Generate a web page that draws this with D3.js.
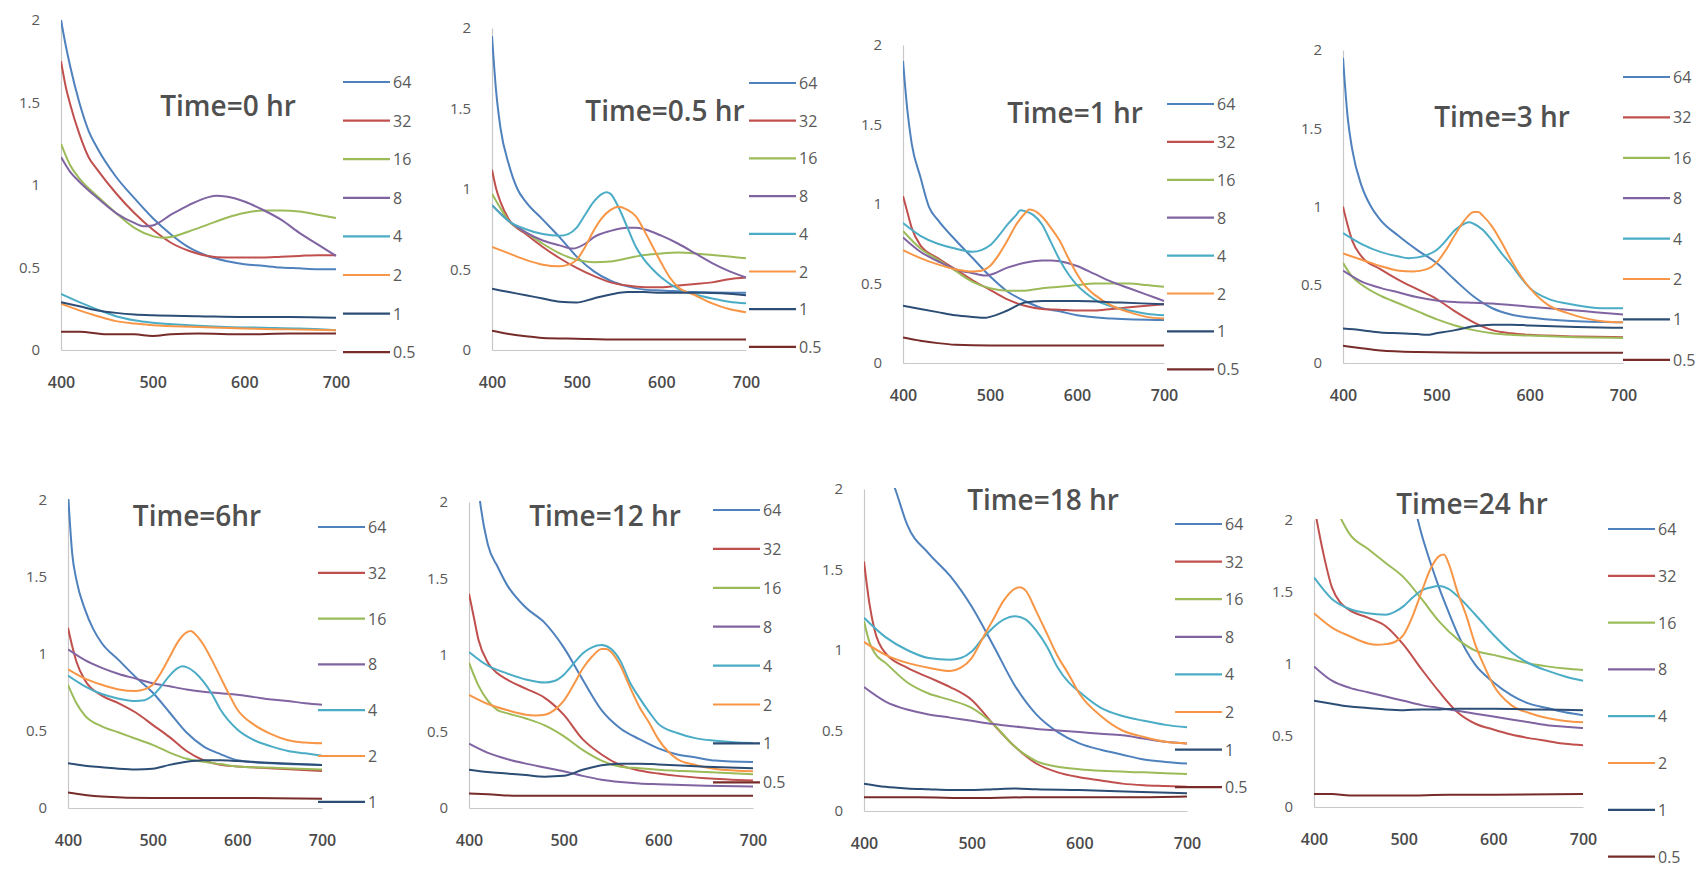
<!DOCTYPE html>
<html><head><meta charset="utf-8">
<script src="https://cdn.jsdelivr.net/npm/d3@7"></script>
<style>body{margin:0;background:#fff;} text{font-family:"Open Sans",Lato,sans-serif;}</style>
</head><body><svg id="c" width="1705" height="870"></svg>
<script>
// ---------------- DATA ----------------
const seriesNames = ["64","32","16","8","4","2","1","0.5"];
const panelTitles = ["Time=0 hr","Time=0.5 hr","Time=1 hr","Time=3 hr","Time=6hr","Time=12 hr","Time=18 hr","Time=24 hr"];
const xTicks = [400,500,600,700];
const yTicks = [0,0.5,1,1.5,2];
const legendCounts = [8,8,8,8,7,8,8,8];

// each panel: series in seriesNames order, each as [wavelength, absorbance] readings
const time0 = [
 [[400,2.0],[405,1.85],[410,1.72],[420,1.5],[430,1.33],[440,1.22],[460,1.05],[480,0.92],[500,0.80],[520,0.70],[540,0.62],[560,0.57],[580,0.54],[600,0.52],[620,0.51],[640,0.50],[660,0.495],[680,0.49],[700,0.49]],
 [[400,1.75],[405,1.6],[410,1.49],[420,1.31],[430,1.17],[440,1.09],[460,0.95],[480,0.83],[500,0.73],[520,0.65],[540,0.60],[560,0.57],[580,0.56],[600,0.56],[620,0.56],[640,0.565],[660,0.57],[680,0.575],[700,0.575]],
 [[400,1.25],[410,1.12],[420,1.04],[440,0.93],[460,0.83],[480,0.74],[500,0.69],[510,0.68],[520,0.685],[540,0.72],[560,0.76],[580,0.80],[600,0.83],[620,0.845],[640,0.845],[660,0.84],[680,0.82],[700,0.80]],
 [[400,1.17],[410,1.08],[420,1.02],[440,0.92],[460,0.83],[480,0.77],[490,0.75],[500,0.755],[520,0.82],[540,0.88],[560,0.925],[570,0.935],[580,0.93],[600,0.90],[620,0.85],[640,0.79],[660,0.71],[680,0.64],[700,0.57]],
 [[400,0.34],[420,0.29],[440,0.245],[460,0.205],[480,0.18],[500,0.165],[540,0.15],[580,0.14],[620,0.135],[660,0.13],[700,0.12]],
 [[400,0.28],[420,0.24],[440,0.205],[460,0.175],[480,0.16],[500,0.15],[550,0.14],[600,0.13],[650,0.125],[700,0.12]],
 [[400,0.29],[420,0.265],[440,0.24],[460,0.225],[480,0.215],[500,0.21],[550,0.205],[600,0.20],[650,0.20],[700,0.195]],
 [[400,0.11],[420,0.11],[450,0.095],[480,0.095],[500,0.085],[520,0.095],[550,0.10],[600,0.095],[650,0.10],[700,0.10]]
];
const time05 = [
 [[400,1.95],[405,1.6],[410,1.38],[420,1.15],[430,1.0],[440,0.92],[460,0.81],[480,0.70],[500,0.58],[520,0.49],[540,0.43],[560,0.395],[580,0.375],[600,0.37],[640,0.36],[700,0.355]],
 [[400,1.12],[405,1.0],[410,0.92],[420,0.81],[440,0.72],[460,0.64],[480,0.57],[500,0.51],[520,0.46],[540,0.42],[560,0.40],[580,0.39],[600,0.39],[620,0.40],[640,0.41],[660,0.42],[680,0.44],[700,0.45]],
 [[400,0.97],[410,0.88],[420,0.80],[440,0.73],[460,0.66],[480,0.60],[500,0.56],[520,0.545],[540,0.55],[560,0.57],[580,0.59],[600,0.60],[620,0.605],[640,0.60],[660,0.59],[680,0.58],[700,0.57]],
 [[400,0.90],[420,0.80],[440,0.73],[460,0.68],[480,0.65],[495,0.63],[510,0.66],[520,0.70],[540,0.74],[560,0.76],[570,0.76],[580,0.75],[600,0.71],[620,0.66],[640,0.60],[660,0.54],[680,0.49],[700,0.45]],
 [[400,0.90],[420,0.80],[440,0.75],[460,0.72],[480,0.71],[490,0.72],[500,0.76],[510,0.84],[520,0.92],[530,0.97],[535,0.98],[540,0.97],[550,0.88],[560,0.76],[570,0.64],[580,0.56],[590,0.50],[600,0.45],[620,0.38],[640,0.345],[660,0.32],[680,0.30],[700,0.29]],
 [[400,0.64],[420,0.60],[440,0.56],[460,0.53],[480,0.52],[490,0.53],[500,0.56],[510,0.64],[520,0.74],[530,0.82],[540,0.87],[550,0.89],[560,0.87],[570,0.83],[580,0.74],[590,0.64],[600,0.54],[610,0.45],[620,0.39],[640,0.34],[660,0.29],[680,0.255],[700,0.235]],
 [[400,0.38],[420,0.36],[440,0.34],[460,0.32],[480,0.30],[500,0.295],[520,0.32],[540,0.345],[560,0.36],[580,0.36],[600,0.355],[650,0.355],[700,0.34]],
 [[400,0.12],[420,0.10],[440,0.085],[460,0.075],[500,0.07],[550,0.065],[600,0.065],[650,0.065],[700,0.065]]
];
const time1 = [
 [[400,1.9],[405,1.59],[410,1.38],[420,1.17],[430,0.98],[440,0.90],[460,0.775],[480,0.66],[500,0.545],[520,0.45],[540,0.39],[560,0.345],[580,0.325],[600,0.30],[640,0.28],[700,0.27]],
 [[400,1.05],[405,0.95],[410,0.85],[420,0.74],[440,0.66],[460,0.59],[480,0.52],[500,0.46],[520,0.40],[540,0.36],[560,0.34],[580,0.335],[600,0.33],[620,0.33],[640,0.34],[660,0.35],[680,0.36],[700,0.37]],
 [[400,0.83],[420,0.72],[440,0.65],[460,0.58],[480,0.51],[500,0.47],[520,0.455],[540,0.455],[560,0.47],[580,0.48],[600,0.49],[620,0.50],[640,0.50],[660,0.50],[680,0.49],[700,0.48]],
 [[400,0.79],[420,0.70],[440,0.64],[460,0.59],[480,0.565],[495,0.55],[500,0.555],[520,0.60],[540,0.63],[560,0.645],[570,0.645],[580,0.64],[600,0.61],[620,0.56],[640,0.51],[660,0.47],[680,0.43],[700,0.39]],
 [[400,0.88],[420,0.80],[440,0.75],[460,0.72],[480,0.70],[490,0.71],[500,0.74],[510,0.80],[520,0.87],[530,0.93],[535,0.96],[540,0.955],[550,0.93],[560,0.87],[570,0.76],[580,0.65],[590,0.56],[600,0.49],[610,0.44],[620,0.40],[640,0.355],[660,0.33],[680,0.31],[700,0.30]],
 [[400,0.71],[420,0.66],[440,0.62],[460,0.59],[480,0.575],[490,0.58],[500,0.61],[510,0.68],[520,0.77],[530,0.87],[540,0.94],[545,0.965],[550,0.96],[560,0.92],[570,0.85],[580,0.77],[590,0.66],[600,0.56],[610,0.48],[620,0.43],[640,0.36],[660,0.32],[680,0.29],[700,0.28]],
 [[400,0.36],[420,0.34],[440,0.32],[460,0.30],[480,0.29],[495,0.285],[500,0.29],[520,0.33],[540,0.38],[560,0.39],[580,0.39],[600,0.39],[650,0.38],[700,0.37]],
 [[400,0.16],[420,0.14],[440,0.125],[460,0.115],[500,0.11],[600,0.11],[700,0.11]]
];
const time3 = [
 [[400,1.95],[405,1.57],[410,1.36],[420,1.13],[430,1.0],[440,0.915],[460,0.81],[480,0.72],[500,0.64],[520,0.53],[540,0.425],[560,0.35],[580,0.31],[600,0.29],[640,0.27],[700,0.26]],
 [[400,1.0],[405,0.88],[410,0.78],[420,0.68],[440,0.60],[460,0.53],[480,0.47],[500,0.41],[520,0.33],[540,0.26],[560,0.21],[580,0.19],[600,0.18],[650,0.17],[700,0.165]],
 [[400,0.64],[410,0.55],[420,0.50],[440,0.43],[460,0.38],[480,0.33],[500,0.28],[520,0.24],[540,0.21],[560,0.19],[580,0.18],[600,0.175],[650,0.165],[700,0.16]],
 [[400,0.59],[420,0.52],[440,0.48],[460,0.45],[480,0.42],[500,0.40],[520,0.39],[540,0.385],[560,0.38],[580,0.37],[600,0.36],[620,0.35],[640,0.34],[660,0.33],[680,0.32],[700,0.31]],
 [[400,0.83],[420,0.76],[440,0.71],[460,0.68],[470,0.67],[480,0.675],[490,0.69],[500,0.72],[510,0.78],[520,0.85],[530,0.89],[535,0.90],[540,0.89],[550,0.85],[560,0.78],[570,0.70],[580,0.63],[590,0.55],[600,0.48],[620,0.41],[640,0.38],[660,0.36],[680,0.35],[700,0.35]],
 [[400,0.70],[420,0.66],[440,0.62],[460,0.59],[475,0.585],[490,0.60],[500,0.64],[510,0.72],[520,0.82],[530,0.91],[540,0.965],[545,0.965],[550,0.94],[560,0.87],[570,0.77],[580,0.66],[590,0.56],[600,0.48],[620,0.37],[640,0.32],[660,0.285],[680,0.265],[700,0.26]],
 [[400,0.22],[420,0.21],[440,0.195],[460,0.19],[480,0.185],[490,0.18],[500,0.19],[520,0.21],[540,0.235],[560,0.245],[580,0.245],[600,0.24],[650,0.23],[700,0.225]],
 [[400,0.11],[420,0.095],[440,0.08],[480,0.07],[550,0.065],[700,0.065]]
];
const time6 = [
 [[400,2.05],[405,1.65],[410,1.48],[420,1.29],[430,1.16],[440,1.07],[460,0.96],[480,0.85],[500,0.75],[520,0.62],[540,0.49],[560,0.40],[580,0.35],[600,0.31],[640,0.29],[700,0.28]],
 [[400,1.17],[405,1.05],[410,0.95],[420,0.83],[440,0.73],[460,0.68],[480,0.62],[500,0.54],[520,0.46],[540,0.37],[560,0.31],[580,0.28],[600,0.27],[650,0.255],[700,0.24]],
 [[400,0.80],[410,0.68],[420,0.60],[440,0.53],[460,0.49],[480,0.45],[500,0.41],[520,0.36],[540,0.32],[560,0.30],[580,0.285],[600,0.27],[650,0.26],[700,0.25]],
 [[400,1.03],[420,0.96],[440,0.91],[460,0.87],[480,0.84],[500,0.81],[520,0.79],[540,0.77],[560,0.755],[580,0.745],[600,0.735],[620,0.72],[640,0.705],[660,0.695],[680,0.68],[700,0.67]],
 [[400,0.86],[420,0.79],[440,0.74],[460,0.71],[480,0.695],[490,0.70],[500,0.73],[510,0.79],[520,0.86],[530,0.91],[535,0.92],[540,0.915],[550,0.88],[560,0.82],[570,0.74],[580,0.64],[600,0.51],[620,0.44],[640,0.40],[660,0.37],[680,0.355],[700,0.34]],
 [[400,0.90],[420,0.84],[440,0.80],[460,0.77],[480,0.76],[490,0.77],[500,0.80],[510,0.88],[520,0.98],[530,1.08],[540,1.14],[545,1.15],[550,1.13],[560,1.06],[570,0.96],[580,0.85],[590,0.74],[600,0.64],[620,0.54],[640,0.48],[660,0.44],[680,0.425],[700,0.42]],
 [[400,0.29],[420,0.275],[440,0.265],[460,0.255],[480,0.25],[500,0.255],[520,0.28],[540,0.30],[560,0.31],[580,0.31],[600,0.305],[650,0.29],[700,0.28]],
 [[400,0.10],[420,0.085],[440,0.075],[500,0.065],[600,0.065],[700,0.06]]
];
const time12 = [
 [[400,2.9],[405,2.5],[410,2.1],[420,1.72],[430,1.58],[440,1.46],[460,1.31],[480,1.21],[500,1.05],[520,0.84],[540,0.64],[560,0.52],[580,0.45],[600,0.39],[620,0.35],[640,0.33],[660,0.31],[700,0.30]],
 [[400,1.40],[405,1.25],[410,1.10],[420,0.95],[430,0.88],[440,0.84],[460,0.78],[480,0.72],[500,0.61],[520,0.45],[540,0.35],[560,0.28],[580,0.245],[600,0.225],[620,0.21],[650,0.195],[700,0.18]],
 [[400,0.95],[410,0.80],[420,0.70],[430,0.64],[440,0.62],[460,0.585],[480,0.54],[500,0.47],[520,0.38],[540,0.31],[560,0.27],[580,0.26],[600,0.25],[650,0.235],[700,0.22]],
 [[400,0.42],[420,0.36],[440,0.32],[460,0.29],[480,0.265],[500,0.24],[520,0.21],[540,0.185],[560,0.17],[580,0.16],[600,0.155],[650,0.145],[700,0.14]],
 [[400,1.02],[420,0.93],[440,0.88],[460,0.84],[480,0.82],[490,0.83],[500,0.87],[510,0.94],[520,1.01],[530,1.05],[540,1.065],[550,1.04],[560,0.96],[570,0.82],[580,0.72],[590,0.63],[600,0.55],[620,0.49],[640,0.455],[660,0.44],[680,0.43],[700,0.425]],
 [[400,0.74],[420,0.68],[440,0.64],[460,0.61],[470,0.605],[480,0.61],[490,0.64],[500,0.70],[510,0.80],[520,0.91],[530,0.99],[540,1.04],[545,1.04],[550,1.02],[560,0.93],[570,0.79],[580,0.66],[590,0.56],[600,0.45],[620,0.32],[640,0.28],[660,0.255],[680,0.245],[700,0.24]],
 [[400,0.25],[420,0.235],[440,0.225],[460,0.215],[480,0.205],[500,0.21],[520,0.25],[540,0.28],[560,0.29],[580,0.29],[600,0.285],[650,0.27],[700,0.26]],
 [[400,0.095],[420,0.09],[450,0.08],[500,0.08],[600,0.08],[700,0.08]]
];
const time18 = [
 [[400,2.6],[410,2.35],[420,2.17],[430,1.98],[440,1.78],[460,1.60],[480,1.46],[500,1.27],[520,1.03],[540,0.78],[560,0.60],[580,0.49],[600,0.42],[620,0.38],[640,0.35],[660,0.32],[680,0.305],[700,0.295]],
 [[400,1.55],[405,1.29],[410,1.12],[420,0.98],[440,0.89],[460,0.83],[480,0.77],[500,0.69],[520,0.54],[540,0.40],[560,0.295],[580,0.24],[600,0.21],[620,0.19],[640,0.17],[660,0.16],[680,0.155],[700,0.15]],
 [[400,1.18],[405,1.05],[410,0.98],[420,0.92],[440,0.80],[460,0.73],[480,0.69],[500,0.64],[520,0.54],[540,0.40],[560,0.31],[580,0.275],[600,0.26],[620,0.25],[660,0.24],[700,0.23]],
 [[400,0.77],[420,0.68],[440,0.63],[460,0.60],[480,0.58],[500,0.56],[520,0.54],[540,0.525],[560,0.51],[580,0.50],[600,0.49],[620,0.48],[640,0.47],[660,0.45],[680,0.43],[700,0.42]],
 [[400,1.2],[420,1.08],[440,1.0],[460,0.95],[480,0.94],[490,0.95],[500,0.99],[510,1.07],[520,1.14],[530,1.19],[540,1.21],[550,1.19],[560,1.12],[570,1.02],[580,0.89],[590,0.80],[600,0.74],[620,0.64],[640,0.59],[660,0.56],[680,0.535],[700,0.52]],
 [[400,1.05],[420,0.97],[440,0.92],[460,0.89],[480,0.87],[490,0.89],[500,0.95],[510,1.07],[520,1.19],[530,1.31],[540,1.38],[545,1.39],[550,1.37],[560,1.24],[570,1.10],[580,0.96],[590,0.85],[600,0.73],[620,0.59],[640,0.50],[660,0.46],[680,0.43],[700,0.42]],
 [[400,0.17],[420,0.15],[440,0.14],[460,0.135],[480,0.13],[500,0.13],[520,0.135],[540,0.14],[560,0.135],[600,0.13],[650,0.12],[700,0.11]],
 [[400,0.085],[450,0.085],[500,0.08],[550,0.085],[600,0.085],[650,0.085],[700,0.09]]
];
const time24 = [
 [[400,3.6],[440,3.2],[480,2.7],[500,2.4],[510,2.15],[520,1.9],[530,1.7],[540,1.52],[550,1.36],[560,1.21],[580,0.99],[600,0.87],[620,0.78],[640,0.72],[660,0.69],[680,0.66],[700,0.64]],
 [[400,2.1],[410,1.78],[420,1.53],[430,1.42],[440,1.37],[460,1.32],[480,1.26],[500,1.13],[520,0.96],[540,0.80],[560,0.66],[580,0.58],[600,0.54],[620,0.505],[640,0.48],[660,0.46],[680,0.44],[700,0.43]],
 [[400,2.4],[420,2.15],[430,2.01],[440,1.9],[460,1.8],[480,1.70],[500,1.60],[520,1.45],[540,1.29],[560,1.17],[580,1.09],[600,1.06],[620,1.03],[640,1.0],[660,0.98],[680,0.965],[700,0.955]],
 [[400,0.98],[420,0.88],[440,0.83],[460,0.80],[480,0.77],[500,0.74],[520,0.71],[540,0.69],[560,0.67],[580,0.65],[600,0.63],[620,0.61],[640,0.59],[660,0.57],[680,0.56],[700,0.55]],
 [[400,1.60],[420,1.45],[440,1.38],[460,1.35],[480,1.34],[490,1.36],[500,1.40],[510,1.46],[520,1.51],[530,1.53],[540,1.54],[550,1.52],[560,1.47],[580,1.34],[600,1.20],[620,1.08],[640,1.0],[660,0.95],[680,0.91],[700,0.88]],
 [[400,1.35],[420,1.25],[440,1.19],[460,1.14],[470,1.13],[480,1.135],[490,1.15],[500,1.20],[510,1.33],[520,1.50],[530,1.66],[540,1.75],[545,1.76],[550,1.70],[560,1.50],[570,1.33],[580,1.13],[590,0.98],[600,0.85],[620,0.71],[640,0.655],[660,0.62],[680,0.60],[700,0.59]],
 [[400,0.74],[420,0.72],[440,0.70],[460,0.69],[480,0.68],[500,0.675],[520,0.68],[540,0.68],[560,0.685],[580,0.685],[600,0.685],[650,0.68],[700,0.675]],
 [[400,0.09],[420,0.09],[440,0.08],[500,0.08],[550,0.085],[600,0.085],[700,0.09]]
];
const panelData = [time0,time05,time1,time3,time6,time12,time18,time24];

// ---------------- STYLE / LAYOUT ----------------
const colors = ["#4F81BD","#C0504D","#9BBB59","#8064A2","#4BACC6","#F79646","#2C4D75","#772C2A"];
const layout = [
 {x0:61,  x1:336,  yTop:20,  yBot:350, lx:343,  ly:82,  ldy:38.6, tx:228,  ty:105},
 {x0:492, x1:746,  yTop:28,  yBot:350, lx:749,  ly:83,  ldy:37.7, tx:665,  ty:110},
 {x0:903, x1:1164, yTop:45,  yBot:363, lx:1167, ly:104, ldy:37.9, tx:1075, ty:112},
 {x0:1343,x1:1623, yTop:50,  yBot:363, lx:1623, ly:77,  ldy:40.4, tx:1502, ty:116},
 {x0:68,  x1:322,  yTop:500, yBot:808, lx:318,  ly:527, ldy:45.8, tx:197,  ty:515},
 {x0:469, x1:753,  yTop:502, yBot:808, lx:713,  ly:510, ldy:38.9, tx:605,  ty:515},
 {x0:864, x1:1187, yTop:489, yBot:811, lx:1175, ly:524, ldy:37.6, tx:1043, ty:499},
 {x0:1314,x1:1583, yTop:520, yBot:807, lx:1608, ly:529, ldy:46.8, tx:1472, ty:503}
];
const FONT = "'Open Sans', Lato, sans-serif";

const svg = d3.select("#c");
panelData.forEach((series, i) => {
  const L = layout[i];
  const x = d3.scaleLinear().domain([400,700]).range([L.x0, L.x1]);
  const y = d3.scaleLinear().domain([0,2]).range([L.yBot, L.yTop]);
  const g = svg.append("g");
  g.append("clipPath").attr("id","clip"+i).append("rect")
    .attr("x", L.x0).attr("y", L.yTop - 1).attr("width", L.x1 - L.x0 + 2).attr("height", L.yBot - L.yTop + 2);

  const ya = g.append("g").attr("transform", `translate(${L.x0},0)`)
    .call(d3.axisLeft(y).tickValues(yTicks).tickSize(0).tickSizeOuter(0).tickPadding(21).tickFormat(d => String(d)));
  const xa = g.append("g").attr("transform", `translate(0,${L.yBot})`)
    .call(d3.axisBottom(x).tickValues(xTicks).tickSize(0).tickSizeOuter(0).tickPadding(27).tickFormat(d => String(d)));
  [ya, xa].forEach(a => {
    a.select(".domain").attr("stroke", "#c8c8c8").attr("stroke-width", 1.2);
    a.selectAll("text").attr("fill", "#595959").style("font-family", FONT);
  });
  ya.selectAll("text").style("font-size", "15px");
  xa.selectAll("text").style("font-size", "16px").attr("fill", "#4a4a4a").style("font-weight", "600");

  const line = d3.line().x(d => x(d[0])).y(d => y(d[1])).curve(d3.curveMonotoneX);
  g.append("g").attr("clip-path", `url(#clip${i})`)
    .selectAll("path").data(series).join("path")
    .attr("d", d => line(d))
    .attr("fill", "none")
    .attr("stroke", (d, k) => colors[k])
    .attr("stroke-width", 2)
    .attr("stroke-linejoin", "round");

  const leg = g.append("g");
  seriesNames.slice(0, legendCounts[i]).forEach((name, k) => {
    const yy = L.ly + k * L.ldy;
    leg.append("line").attr("x1", L.lx).attr("x2", L.lx + 47).attr("y1", yy).attr("y2", yy)
      .attr("stroke", colors[k]).attr("stroke-width", 2.2);
    leg.append("text").attr("x", L.lx + 50).attr("y", yy).attr("dominant-baseline", "central")
      .attr("fill", "#595959").style("font-family", FONT).style("font-size", "16px").text(name);
  });

  g.append("text").attr("x", L.tx).attr("y", L.ty)
    .attr("text-anchor", "middle").attr("dominant-baseline", "central")
    .attr("fill", "#505050").style("font-family", FONT).style("font-size", "28px").style("font-weight", "600")
    .text(panelTitles[i]);
});
</script>
</body></html>
